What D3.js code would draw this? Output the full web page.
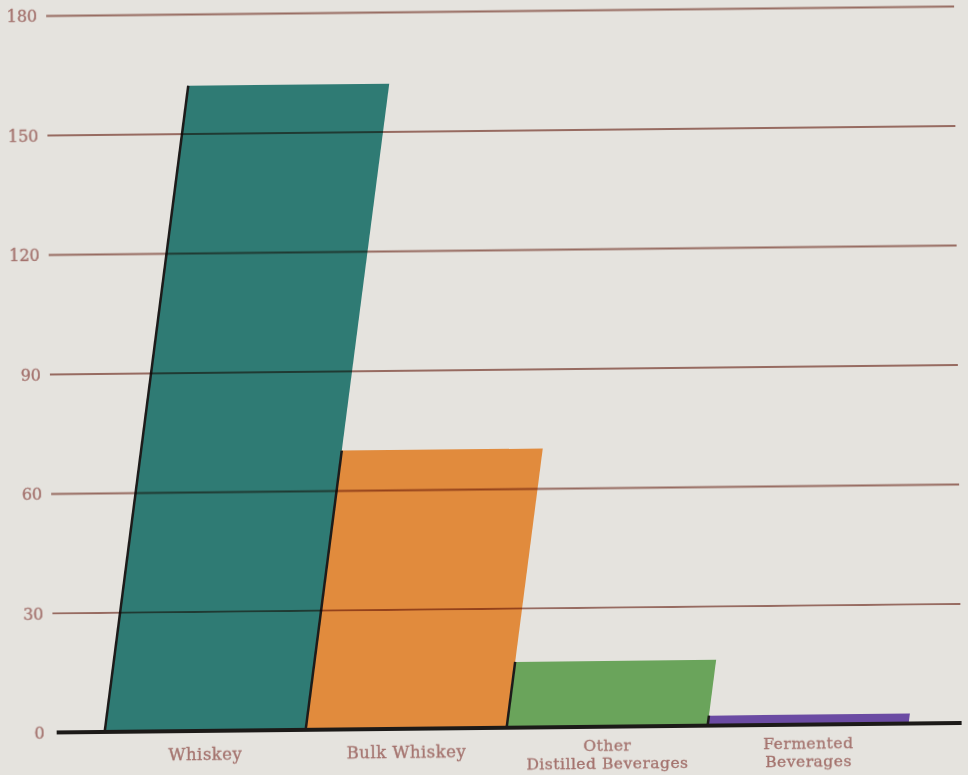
<!DOCTYPE html>
<html>
<head>
<meta charset="utf-8">
<script src="https://cdn.jsdelivr.net/npm/d3@7"></script>
<style>
  html, body { margin: 0; padding: 0; background: #e5e3de; }
  svg { display: block; }
  .tick-label, .cat-label { font-family: "DejaVu Serif", serif; fill: #a4736e; stroke: #a4736e; stroke-width: 0.35px; }
  .cat-label { letter-spacing: 0.5px; }
</style>
</head>
<body>
<div id="chart-area"></div>
<script>
// chart values
var categories = ["Whiskey", "Bulk Whiskey", "Other Distilled Beverages", "Fermented Beverages"];
var labelLines = [["Whiskey"], ["Bulk Whiskey"], ["Other", "Distilled Beverages"], ["Fermented", "Beverages"]];
var values = [162, 70, 16.5, 2.5];
var barColors = ["#2f7b74", "#e18b3d", "#6aa45b", "#6b4ba3"];
var yTicks = [0, 30, 60, 90, 120, 150, 180];

var width = 968, height = 775;
var slant = 0.14;   // bars lean right, offset per pixel of height

var x = d3.scaleBand()
    .domain(categories)
    .range([101, 905])
    .padding(0);
var y = d3.scaleLinear()
    .domain([0, 180])
    .range([728, 11]);

var svg = d3.select("#chart-area").append("svg")
    .attr("width", width)
    .attr("height", height);

// the scanned page is a little tilted
var g = svg.append("g")
    .attr("transform", "rotate(-0.6,480,380)");

// bars as slanted parallelograms
var bars = g.append("g").attr("class", "bars");
categories.forEach(function(c, i) {
    var x0 = x(c), bw = x.bandwidth();
    var yb = y(0), yt = y(values[i]);
    var off = (yb - yt) * slant;
    bars.append("path")
        .attr("d", "M" + x0 + "," + yb + "L" + (x0 + off) + "," + yt +
                   "L" + (x0 + off + bw) + "," + yt + "L" + (x0 + bw) + "," + yb + "Z")
        .attr("fill", barColors[i]);
    // dark left edge
    bars.append("line")
        .attr("x1", x0).attr("y1", yb)
        .attr("x2", x0 + off).attr("y2", yt)
        .attr("stroke", "#1d1b1a")
        .attr("stroke-width", 2.5);
});

// gridlines on top, multiplied over the bars
var yAxis = d3.axisLeft(y)
    .tickValues(yTicks.filter(function(d) { return d > 0; }))
    .tickSize(-908)
    .tickFormat("");
var grid = g.append("g")
    .attr("transform", "translate(50,0)")
    .style("mix-blend-mode", "multiply")
    .call(yAxis);
grid.select(".domain").remove();
grid.selectAll(".tick line")
    .attr("stroke", "#a8786f")
    .attr("stroke-width", 2);

// tick labels
g.append("g").selectAll("text")
    .data(yTicks)
    .enter().append("text")
    .attr("class", "tick-label")
    .attr("x", 41)
    .attr("y", function(d) { return y(d) + 6; })
    .attr("text-anchor", "end")
    .attr("font-size", 16)
    .text(function(d) { return d; });

// baseline
g.append("line")
    .attr("x1", 53).attr("x2", 958)
    .attr("y1", y(0)).attr("y2", y(0))
    .attr("stroke", "#1c1a18")
    .attr("stroke-width", 4);

// category labels
var cats = g.append("g");
categories.forEach(function(c, i) {
    var lines = labelLines[i];
    var two = lines.length > 1;
    lines.forEach(function(l, j) {
        cats.append("text")
            .attr("class", "cat-label")
            .attr("text-anchor", "middle")
            .attr("font-size", two ? 15.5 : 16.5)
            .attr("x", x(c) + x.bandwidth() / 2)
            .attr("y", (two ? 752 : 757) + j * 18)
            .text(l);
    });
});
</script>
</body>
</html>
